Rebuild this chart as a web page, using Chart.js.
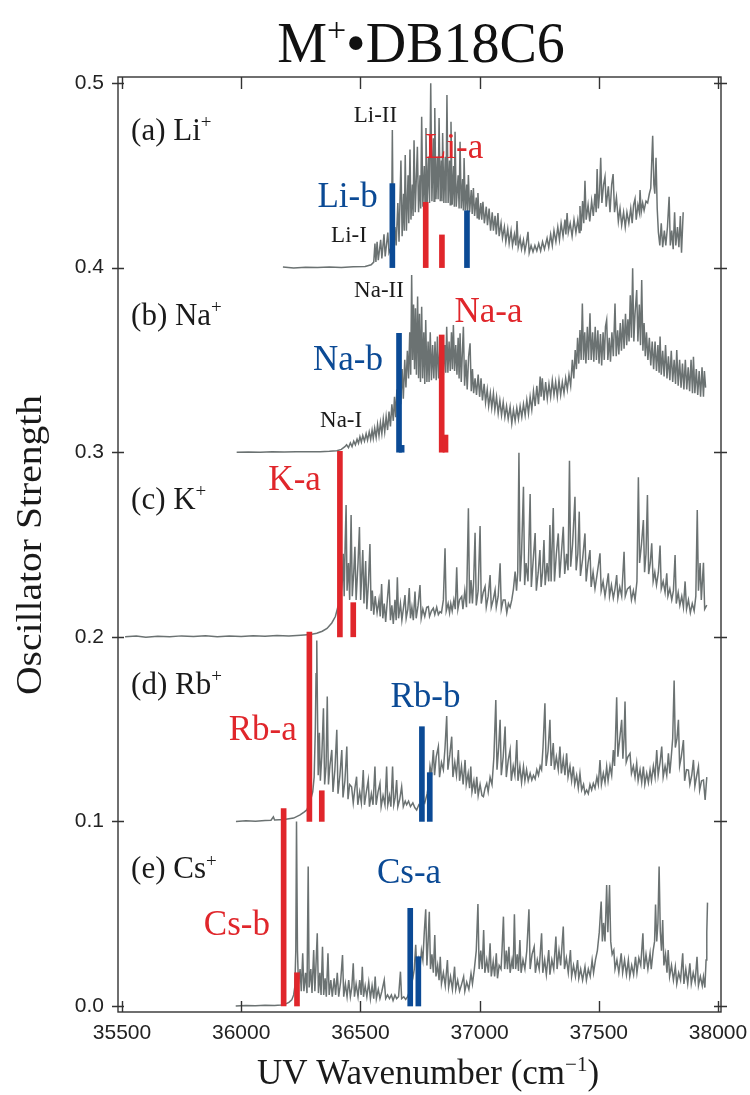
<!DOCTYPE html>
<html>
<head>
<meta charset="utf-8">
<title>M+•DB18C6 UV spectra</title>
<script src="https://cdn.jsdelivr.net/npm/chart.js@4/dist/chart.umd.min.js"></script>
<style>
  html, body { margin: 0; padding: 0; background: #ffffff; }
  #wrap { width: 750px; height: 1095px; }
</style>
</head>
<body>
<div id="wrap"><canvas id="chart" width="750" height="1095"></canvas></div>
<script>
// ---- axis ticks ----
const xTicks = [35500, 36000, 36500, 37000, 37500, 38000];
const yTicks = [0.0, 0.1, 0.2, 0.3, 0.4, 0.5];

// ---- vertical offset of each complex's trace ----
const offsets = { Li: 0.4, Na: 0.3, K: 0.2, Rb: 0.1, Cs: 0.0 };

// ---- UV spectra: [wavenumber (cm-1), oscillator strength above the trace baseline] ----
const liSpectrum = [
  [36175,0.0003],[36220,-0.0002],[36270,0.0002],[36320,0.0],[36370,0.0003],[36420,0.0],[36470,0.0004],[36520,0.0006],[36545,0.0015],
  [36556,0.003],[36561,0.013],[36565,0.003],[36570,0.014],[36575,0.004],[36585,0.015],[36590,0.005],[36599,0.018],[36604,0.006],
  [36615,0.019],[36620,0.008],[36626,0.010],[36630,0.009],[36634,0.0745],[36638,0.01],[36645,0.022],[36650,0.012],[36657,0.035],
  [36662,0.014],[36670,0.058],[36675,0.017],[36681,0.04],[36684,0.02],[36688,0.061],[36693,0.02],[36700,0.05],[36703,0.024],
  [36708,0.064],[36712,0.026],[36718,0.045],[36721,0.028],[36725,0.069],[36730,0.03],[36739,0.0655],[36744,0.03],[36750,0.05],
  [36753,0.032],[36757,0.0817],[36762,0.033],[36768,0.055],[36771,0.034],[36775,0.0756],[36780,0.035],[36786,0.06],[36790,0.035],
  [36795,0.0998],[36800,0.036],[36806,0.07],[36809,0.036],[36812,0.0865],[36817,0.037],[36823,0.06],[36826,0.037],[36830,0.081],
  [36835,0.036],[36840,0.058],[36842,0.036],[36845,0.0729],[36850,0.035],[36856,0.06],[36859,0.035],[36863,0.0935],[36868,0.035],
  [36874,0.058],[36877,0.034],[36880,0.079],[36885,0.034],[36891,0.055],[36894,0.033],[36897,0.0736],[36902,0.033],[36910,0.05],
  [36914,0.032],[36918,0.0682],[36923,0.032],[36929,0.048],[36932,0.031],[36935,0.0594],[36940,0.031],[36946,0.045],[36949,0.03],
  [36953,0.0502],[36958,0.03],[36965,0.042],[36969,0.029],[36974,0.0431],[36979,0.028],[36986,0.038],[36990,0.027],[36993,0.0404],
  [36998,0.026],[37005,0.035],[37009,0.026],[37014,0.0357],[37020,0.024],[37028,0.033],[37033,0.023],[37040,0.032],[37046,0.02],
  [37053,0.03],[37058,0.02],[37065,0.028],[37070,0.018],[37077,0.0296],[37082,0.017],[37090,0.024],[37096,0.016],[37104,0.022],
  [37110,0.014],[37118,0.021],[37124,0.013],[37132,0.02],[37138,0.012],[37146,0.018],[37152,0.012],[37157,0.0252],[37162,0.011],
  [37170,0.016],[37176,0.01],[37184,0.015],[37190,0.009],[37196,0.013],[37203,0.0194],[37208,0.008],[37216,0.012],[37224,0.0085],
  [37232,0.012],[37240,0.009],[37248,0.013],[37256,0.009],[37264,0.014],[37272,0.01],[37283,0.016],[37290,0.011],[37298,0.018],
  [37305,0.012],[37312,0.02],[37320,0.014],[37328,0.022],[37335,0.015],[37342,0.024],[37350,0.017],[37358,0.026],[37362,0.018],
  [37367,0.0296],[37372,0.019],[37380,0.024],[37388,0.017],[37396,0.026],[37404,0.019],[37412,0.026],[37418,0.019],[37421,0.0334],
  [37426,0.02],[37432,0.036],[37437,0.024],[37442,0.0471],[37447,0.026],[37455,0.034],[37462,0.025],[37470,0.036],[37477,0.028],
  [37484,0.04],[37489,0.03],[37493,0.0534],[37498,0.032],[37503,0.04],[37508,0.0595],[37513,0.035],[37520,0.045],[37526,0.0492],
  [37531,0.033],[37540,0.044],[37547,0.03],[37554,0.045],[37560,0.0507],[37566,0.03],[37574,0.038],[37582,0.025],[37589,0.032],
  [37596,0.023],[37604,0.03],[37611,0.022],[37618,0.03],[37626,0.024],[37634,0.032],[37640,0.024],[37646,0.034],[37652,0.0372],
  [37657,0.026],[37664,0.034],[37670,0.03],[37673,0.042],[37678,0.03],[37684,0.035],[37690,0.031],[37698,0.036],[37705,0.035],
  [37712,0.04],[37718,0.043],[37726,0.0714],[37731,0.045],[37735,0.04],[37740,0.0595],[37745,0.032],[37750,0.019],[37756,0.012],
  [37762,0.024],[37768,0.011],[37775,0.02],[37781,0.012],[37788,0.022],[37795,0.0384],[37800,0.012],[37806,0.02],[37812,0.01],
  [37818,0.03],[37823,0.012],[37830,0.022],[37836,0.011],[37842,0.028],[37847,0.008],[37854,0.03]
];

const naSpectrum = [
  [35981,0.0],[36030,0.0001],[36080,0.0],[36130,0.0002],[36180,0.0001],[36230,0.0002],[36280,0.0002],[36331,0.0003],[36370,0.0005],
  [36401,0.0008],[36420,0.0015],[36435,0.003],[36442,0.004],[36450,0.0025],[36458,0.005],[36465,0.003],[36472,0.006],[36479,0.004],
  [36486,0.007],[36492,0.0048],[36498,0.0084],[36504,0.0055],[36510,0.009],[36517,0.006],[36524,0.01],[36530,0.0065],[36537,0.011],
  [36543,0.007],[36549,0.012],[36554,0.0075],[36560,0.013],[36566,0.008],[36572,0.015],[36578,0.009],[36584,0.016],[36590,0.01],
  [36596,0.018],[36602,0.011],[36608,0.0192],[36614,0.012],[36620,0.022],[36626,0.014],[36632,0.026],[36638,0.017],[36643,0.03],
  [36648,0.019],[36653,0.034],[36658,0.022],[36664,0.04],[36669,0.026],[36675,0.045],[36680,0.029],[36686,0.05],[36691,0.035],
  [36697,0.055],[36702,0.04],[36707,0.065],[36711,0.042],[36715,0.096],[36719,0.05],[36723,0.08],[36727,0.045],[36731,0.078],
  [36735,0.042],[36740,0.0843],[36744,0.04],[36748,0.075],[36752,0.038],[36757,0.0788],[36761,0.04],[36766,0.065],[36770,0.037],
  [36774,0.0716],[36779,0.038],[36784,0.06],[36788,0.038],[36793,0.065],[36798,0.039],[36803,0.058],[36808,0.04],[36813,0.06],
  [36818,0.039],[36823,0.0626],[36828,0.04],[36833,0.055],[36838,0.041],[36843,0.06],[36848,0.042],[36854,0.058],[36858,0.043],
  [36862,0.068],[36867,0.043],[36872,0.06],[36877,0.044],[36882,0.065],[36886,0.045],[36890,0.0689],[36895,0.044],[36900,0.058],
  [36905,0.042],[36910,0.062],[36914,0.04],[36918,0.0644],[36923,0.038],[36928,0.055],[36932,0.068],[36937,0.036],[36943,0.05],
  [36948,0.034],[36954,0.052],[36960,0.059],[36965,0.033],[36970,0.045],[36975,0.032],[36981,0.04],[36987,0.031],[36994,0.042],
  [37000,0.03],[37006,0.04],[37012,0.028],[37019,0.037],[37025,0.027],[37032,0.034],[37038,0.025],[37045,0.032],[37051,0.024],
  [37058,0.0319],[37064,0.023],[37071,0.03],[37078,0.021],[37085,0.028],[37092,0.02],[37099,0.027],[37106,0.019],[37113,0.025],
  [37120,0.018],[37128,0.0247],[37135,0.0156],[37142,0.023],[37149,0.017],[37156,0.024],[37163,0.018],[37170,0.025],[37177,0.019],
  [37184,0.026],[37191,0.02],[37198,0.0283],[37205,0.021],[37212,0.03],[37219,0.023],[37226,0.033],[37233,0.025],[37240,0.036],
  [37247,0.026],[37254,0.041],[37258,0.03],[37263,0.04],[37270,0.028],[37277,0.038],[37284,0.029],[37291,0.037],[37298,0.03],
  [37305,0.039],[37312,0.031],[37319,0.038],[37326,0.03],[37333,0.039],[37340,0.031],[37347,0.038],[37354,0.032],[37361,0.04],
  [37368,0.034],[37375,0.042],[37382,0.036],[37389,0.05],[37395,0.04],[37401,0.0554],[37406,0.045],[37411,0.062],[37416,0.048],
  [37421,0.0662],[37426,0.05],[37431,0.0806],[37436,0.05],[37441,0.065],[37446,0.048],[37452,0.068],[37457,0.05],[37463,0.0752],
  [37468,0.05],[37474,0.065],[37479,0.049],[37485,0.068],[37490,0.05],[37496,0.066],[37501,0.048],[37507,0.064],[37512,0.047],
  [37518,0.065],[37523,0.05],[37528,0.068],[37533,0.0716],[37538,0.05],[37544,0.062],[37549,0.049],[37555,0.065],[37561,0.052],
  [37568,0.0806],[37573,0.052],[37579,0.066],[37584,0.053],[37590,0.07],[37595,0.055],[37601,0.072],[37606,0.056],[37612,0.075],
  [37617,0.058],[37622,0.072],[37627,0.06],[37632,0.085],[37637,0.062],[37642,0.0996],[37647,0.06],[37652,0.075],[37659,0.0879],
  [37664,0.06],[37670,0.08],[37675,0.058],[37680,0.0933],[37685,0.055],[37690,0.07],[37695,0.052],[37700,0.065],[37706,0.05],
  [37712,0.062],[37718,0.047],[37724,0.06],[37730,0.045],[37736,0.06],[37742,0.044],[37748,0.058],[37753,0.043],[37757,0.0626],
  [37762,0.042],[37768,0.055],[37774,0.041],[37780,0.058],[37786,0.04],[37792,0.052],[37798,0.039],[37804,0.055],[37810,0.038],
  [37816,0.05],[37822,0.037],[37827,0.0554],[37833,0.036],[37839,0.05],[37845,0.035],[37851,0.048],[37857,0.034],[37863,0.05],
  [37869,0.034],[37875,0.046],[37881,0.033],[37887,0.05],[37893,0.032],[37897,0.0517],[37903,0.032],[37909,0.045],[37915,0.031],
  [37921,0.044],[37927,0.03],[37933,0.046],[37939,0.03],[37943,0.044],[37948,0.035]
];

const kSpectrum = [
  [35513,0.0],[35560,0.0004],[35600,-0.0003],[35650,0.0003],[35700,0.0],[35750,0.0005],[35800,0.0001],[35850,0.0006],[35900,0.0],
  [35950,0.0004],[36000,0.0002],[36050,0.0006],[36100,0.0003],[36150,0.0007],[36200,0.0004],[36250,0.0008],[36290,0.0012],
  [36317,0.0019],[36340,0.003],[36360,0.0045],[36380,0.0075],[36395,0.011],[36405,0.016],[36412,0.018],[36418,0.022],[36424,0.03],
  [36428,0.045],[36432,0.022],[36436,0.05],[36440,0.0714],[36444,0.025],[36450,0.04],[36455,0.02],[36461,0.066],[36466,0.022],
  [36472,0.035],[36477,0.0488],[36482,0.02],[36490,0.04],[36496,0.0595],[36501,0.02],[36506,0.035],[36510,0.047],[36515,0.018],
  [36522,0.041],[36527,0.015],[36534,0.03],[36540,0.0503],[36545,0.014],[36550,0.025],[36556,0.012],[36562,0.022],[36570,0.013],
  [36578,0.02],[36583,0.011],[36589,0.0286],[36594,0.01],[36600,0.018],[36606,0.008],[36613,0.02],[36620,0.031],[36626,0.009],
  [36632,0.017],[36638,0.007],[36645,0.02],[36650,0.009],[36655,0.0322],[36660,0.01],[36668,0.018],[36674,0.009],[36680,0.015],
  [36687,0.0226],[36692,0.01],[36699,0.015],[36705,0.0264],[36710,0.01],[36716,0.016],[36722,0.009],[36729,0.0245],[36734,0.01],
  [36742,0.017],[36750,0.028],[36755,0.01],[36762,0.015],[36770,0.011],[36778,0.016],[36785,0.0164],[36790,0.011],[36798,0.014],
  [36806,0.0155],[36812,0.012],[36820,0.016],[36827,0.012],[36834,0.0136],[36840,0.013],[36848,0.02],[36855,0.0479],[36860,0.014],
  [36868,0.018],[36874,0.013],[36879,0.018],[36885,0.014],[36892,0.02],[36898,0.015],[36904,0.0376],[36909,0.015],[36916,0.02],
  [36925,0.0218],[36930,0.015],[36938,0.025],[36945,0.016],[36953,0.0696],[36958,0.018],[36964,0.0308],[36970,0.018],[36975,0.03],
  [36981,0.0564],[36986,0.017],[36994,0.025],[37002,0.06],[37007,0.018],[37015,0.024],[37023,0.0272],[37028,0.016],[37036,0.022],
  [37044,0.0335],[37049,0.016],[37057,0.02],[37065,0.0254],[37070,0.016],[37078,0.022],[37086,0.0398],[37091,0.015],[37099,0.02],
  [37107,0.02],[37114,0.013],[37121,0.018],[37128,0.016],[37135,0.02],[37142,0.026],[37149,0.0353],[37155,0.025],[37160,0.035],
  [37165,0.0997],[37170,0.03],[37176,0.045],[37184,0.0813],[37189,0.028],[37195,0.04],[37203,0.03],[37212,0.0774],[37217,0.027],
  [37224,0.04],[37233,0.0562],[37238,0.025],[37246,0.035],[37253,0.047],[37258,0.027],[37264,0.035],[37270,0.0524],[37275,0.028],
  [37283,0.04],[37290,0.03],[37295,0.0606],[37300,0.03],[37309,0.0697],[37314,0.03],[37322,0.045],[37330,0.056],[37336,0.032],
  [37343,0.045],[37351,0.0596],[37357,0.034],[37365,0.045],[37371,0.036],[37377,0.0954],[37382,0.038],[37390,0.05],[37400,0.0759],
  [37405,0.036],[37412,0.045],[37418,0.0678],[37423,0.033],[37432,0.042],[37442,0.056],[37447,0.03],[37455,0.04],[37463,0.047],
  [37468,0.027],[37476,0.035],[37484,0.026],[37492,0.033],[37505,0.0452],[37510,0.025],[37518,0.03],[37526,0.022],[37533,0.028],
  [37540,0.0344],[37545,0.022],[37553,0.028],[37561,0.021],[37568,0.026],[37575,0.0334],[37580,0.021],[37588,0.027],[37596,0.022],
  [37606,0.0461],[37611,0.022],[37620,0.026],[37631,0.0272],[37637,0.02],[37645,0.025],[37652,0.02],[37660,0.03],[37666,0.0864],
  [37671,0.04],[37679,0.05],[37687,0.0632],[37692,0.035],[37698,0.045],[37704,0.0768],[37709,0.034],[37716,0.04],[37722,0.0506],
  [37728,0.03],[37735,0.035],[37742,0.028],[37750,0.035],[37757,0.0495],[37762,0.026],[37770,0.03],[37778,0.024],[37785,0.0344],
  [37790,0.022],[37798,0.026],[37806,0.02],[37813,0.025],[37820,0.0443],[37825,0.018],[37833,0.024],[37840,0.017],[37848,0.022],
  [37855,0.016],[37862,0.03],[37868,0.015],[37876,0.02],[37884,0.013],[37892,0.018],[37900,0.014],[37907,0.022],[37913,0.0687],
  [37918,0.025],[37925,0.04],[37930,0.02],[37939,0.0401],[37944,0.015],[37953,0.0172]
];

const rbSpectrum = [
  [35978,0.0],[36020,0.0003],[36060,0.0001],[36100,0.0005],[36125,0.0006],[36135,0.0025],[36140,0.0008],[36180,0.001],[36220,0.0018],
  [36247,0.0035],[36265,0.0052],[36275,0.0062],[36284,0.009],[36292,0.012],[36300,0.016],[36306,0.024],[36311,0.05],[36314,0.08],
  [36317,0.098],[36320,0.06],[36323,0.025],[36328,0.048],[36332,0.022],[36338,0.035],[36345,0.0613],[36350,0.02],[36356,0.03],
  [36361,0.0676],[36366,0.02],[36372,0.03],[36380,0.0387],[36385,0.016],[36393,0.028],[36401,0.0496],[36406,0.015],[36414,0.025],
  [36422,0.0387],[36427,0.013],[36435,0.022],[36443,0.0405],[36448,0.012],[36455,0.02],[36463,0.0188],[36470,0.01],[36477,0.018],
  [36484,0.0242],[36489,0.009],[36497,0.016],[36504,0.01],[36512,0.0278],[36517,0.009],[36525,0.016],[36533,0.0224],[36538,0.008],
  [36546,0.015],[36553,0.009],[36561,0.0297],[36566,0.009],[36574,0.016],[36582,0.0206],[36587,0.008],[36595,0.014],[36603,0.009],
  [36610,0.0297],[36615,0.009],[36622,0.014],[36628,0.008],[36635,0.0297],[36640,0.009],[36646,0.013],[36652,0.0224],[36657,0.008],
  [36665,0.012],[36673,0.0188],[36680,0.008],[36688,0.011],[36694,0.009],[36702,0.011],[36710,0.008],[36720,0.01],[36728,0.0075],
  [36736,0.0062],[36745,0.009],[36752,0.008],[36760,0.012],[36770,0.01],[36780,0.015],[36786,0.02],[36792,0.03],[36798,0.025],
  [36806,0.0387],[36811,0.025],[36818,0.035],[36827,0.0405],[36832,0.024],[36840,0.032],[36848,0.028],[36855,0.04],[36862,0.0571],
  [36867,0.028],[36875,0.036],[36883,0.0459],[36888,0.024],[36896,0.032],[36903,0.025],[36911,0.0387],[36916,0.022],[36924,0.03],
  [36931,0.02],[36939,0.0333],[36944,0.02],[36952,0.026],[36958,0.018],[36963,0.0297],[36968,0.016],[36976,0.022],[36982,0.015],
  [36988,0.0242],[36994,0.014],[37002,0.02],[37010,0.014],[37016,0.0134],[37023,0.018],[37030,0.0206],[37036,0.016],[37044,0.024],
  [37052,0.02],[37060,0.035],[37068,0.0658],[37073,0.028],[37080,0.04],[37086,0.055],[37091,0.025],[37099,0.035],[37107,0.0514],
  [37112,0.024],[37120,0.033],[37128,0.0387],[37133,0.022],[37141,0.03],[37148,0.025],[37156,0.0441],[37161,0.022],[37169,0.03],
  [37176,0.021],[37184,0.0297],[37190,0.022],[37197,0.028],[37204,0.022],[37212,0.026],[37219,0.0224],[37226,0.025],[37233,0.023],
  [37240,0.028],[37247,0.025],[37254,0.03],[37260,0.028],[37266,0.04],[37274,0.064],[37279,0.03],[37287,0.038],[37295,0.055],
  [37300,0.03],[37309,0.0424],[37314,0.028],[37322,0.035],[37330,0.028],[37337,0.0405],[37343,0.026],[37351,0.034],[37358,0.025],
  [37365,0.0369],[37371,0.024],[37379,0.03],[37386,0.022],[37393,0.0297],[37399,0.02],[37407,0.025],[37414,0.018],[37421,0.026],
  [37428,0.017],[37436,0.02],[37442,0.015],[37449,0.017],[37456,0.015],[37463,0.02],[37470,0.017],[37477,0.0206],[37484,0.018],
  [37492,0.024],[37498,0.02],[37505,0.0333],[37511,0.02],[37519,0.026],[37526,0.021],[37533,0.0297],[37539,0.022],[37547,0.03],
  [37554,0.025],[37561,0.0387],[37566,0.03],[37570,0.045],[37575,0.0672],[37580,0.035],[37588,0.045],[37596,0.055],[37601,0.034],
  [37606,0.045],[37610,0.0649],[37615,0.032],[37622,0.035],[37631,0.0369],[37637,0.026],[37645,0.03],[37652,0.024],[37659,0.0315],
  [37665,0.022],[37673,0.028],[37680,0.021],[37687,0.0297],[37693,0.02],[37701,0.026],[37708,0.021],[37715,0.0278],[37721,0.022],
  [37729,0.03],[37736,0.024],[37743,0.0387],[37749,0.025],[37757,0.032],[37764,0.0405],[37770,0.024],[37778,0.03],[37785,0.025],
  [37792,0.0369],[37798,0.026],[37804,0.035],[37810,0.045],[37816,0.0763],[37821,0.04],[37828,0.045],[37834,0.055],[37839,0.03],
  [37846,0.035],[37855,0.0441],[37860,0.022],[37868,0.028],[37876,0.0278],[37882,0.02],[37890,0.025],[37897,0.0333],[37903,0.019],
  [37911,0.025],[37918,0.0297],[37923,0.017],[37931,0.022],[37939,0.0224],[37946,0.0116],[37953,0.024]
];

const csSpectrum = [
  [35977,0.0],[36020,0.0003],[36060,0.0001],[36100,0.0004],[36140,0.0003],[36167,0.0006],[36185,0.001],[36200,0.002],[36212,0.0033],
  [36220,0.006],[36225,0.0105],[36229,0.03],[36232,0.1],[36236,0.03],[36240,0.012],[36247,0.02],[36252,0.008],[36258,0.0285],
  [36263,0.008],[36270,0.018],[36276,0.007],[36281,0.0755],[36285,0.01],[36292,0.02],[36297,0.007],[36304,0.0303],[36309,0.008],
  [36313,0.02],[36319,0.0394],[36324,0.007],[36330,0.018],[36335,0.006],[36341,0.0321],[36346,0.006],[36352,0.015],[36357,0.005],
  [36364,0.0285],[36369,0.006],[36376,0.014],[36382,0.005],[36390,0.015],[36396,0.006],[36403,0.018],[36409,0.005],[36417,0.013],
  [36425,0.0276],[36430,0.005],[36437,0.012],[36444,0.005],[36451,0.014],[36458,0.005],[36464,0.01],[36470,0.0231],[36475,0.005],
  [36482,0.012],[36490,0.005],[36497,0.014],[36503,0.006],[36508,0.0213],[36513,0.005],[36520,0.011],[36527,0.005],[36535,0.013],
  [36542,0.004],[36549,0.011],[36556,0.004],[36562,0.0159],[36567,0.004],[36575,0.009],[36582,0.004],[36590,0.008],[36600,0.0141],
  [36606,0.004],[36614,0.006],[36622,0.004],[36630,0.006],[36637,0.003],[36645,0.006],[36652,0.004],[36660,0.005],[36668,0.0186],
  [36673,0.004],[36682,0.005],[36690,0.0035],[36698,0.005],[36706,0.008],[36714,0.012],[36720,0.015],[36726,0.02],[36732,0.0331],
  [36737,0.018],[36744,0.025],[36750,0.02],[36756,0.03],[36762,0.025],[36768,0.04],[36774,0.0524],[36779,0.022],[36784,0.035],
  [36789,0.0511],[36794,0.02],[36800,0.028],[36806,0.018],[36812,0.0385],[36817,0.016],[36824,0.022],[36830,0.014],[36835,0.0267],
  [36840,0.012],[36848,0.018],[36856,0.011],[36865,0.0249],[36870,0.01],[36878,0.016],[36886,0.009],[36895,0.0213],[36900,0.009],
  [36908,0.014],[36916,0.008],[36925,0.012],[36933,0.0159],[36938,0.008],[36946,0.013],[36955,0.009],[36964,0.0176],[36970,0.012],
  [36978,0.02],[36986,0.03],[36993,0.0553],[36998,0.02],[37005,0.03],[37011,0.02],[37017,0.0412],[37022,0.018],[37030,0.025],
  [37037,0.018],[37044,0.034],[37049,0.016],[37057,0.024],[37063,0.016],[37070,0.0285],[37075,0.015],[37082,0.022],[37090,0.02],
  [37094,0.03],[37100,0.0484],[37105,0.02],[37112,0.03],[37117,0.02],[37123,0.0321],[37128,0.018],[37136,0.025],[37141,0.02],
  [37146,0.0497],[37151,0.02],[37158,0.028],[37163,0.019],[37169,0.0358],[37174,0.018],[37182,0.025],[37190,0.02],[37198,0.03],
  [37207,0.0524],[37212,0.02],[37220,0.028],[37229,0.0321],[37234,0.018],[37242,0.025],[37250,0.02],[37260,0.0394],[37265,0.018],
  [37273,0.025],[37280,0.017],[37290,0.0303],[37295,0.017],[37303,0.025],[37311,0.02],[37320,0.0376],[37325,0.02],[37333,0.03],
  [37340,0.022],[37351,0.043],[37356,0.02],[37364,0.026],[37372,0.018],[37381,0.0303],[37386,0.016],[37394,0.022],[37402,0.016],
  [37411,0.0249],[37416,0.015],[37424,0.02],[37432,0.014],[37442,0.0213],[37448,0.014],[37456,0.02],[37464,0.016],[37472,0.0249],
  [37478,0.018],[37486,0.025],[37494,0.03],[37502,0.04],[37510,0.0566],[37515,0.035],[37520,0.045],[37526,0.035],[37533,0.0656],
  [37538,0.04],[37545,0.0656],[37550,0.035],[37556,0.028],[37563,0.0303],[37568,0.02],[37576,0.025],[37584,0.018],[37594,0.0285],
  [37600,0.018],[37608,0.025],[37616,0.017],[37624,0.0249],[37630,0.016],[37638,0.022],[37646,0.017],[37654,0.0267],[37660,0.018],
  [37668,0.026],[37676,0.022],[37685,0.0394],[37690,0.02],[37698,0.028],[37706,0.02],[37715,0.0285],[37720,0.02],[37728,0.03],
  [37734,0.035],[37738,0.055],[37743,0.035],[37748,0.045],[37753,0.0755],[37758,0.04],[37763,0.03],[37768,0.0466],[37773,0.022],
  [37780,0.028],[37786,0.018],[37791,0.0303],[37797,0.016],[37805,0.022],[37813,0.014],[37821,0.0213],[37827,0.012],[37835,0.018],
  [37843,0.014],[37852,0.0285],[37857,0.012],[37865,0.02],[37873,0.012],[37882,0.0231],[37888,0.012],[37896,0.018],[37904,0.013],
  [37912,0.0267],[37918,0.011],[37926,0.016],[37934,0.011],[37939,0.0159],[37945,0.01],[37950,0.0249],[37953,0.04],[37956,0.056]
];

// ---- calculated transitions: [wavenumber (cm-1), oscillator strength] ----
const liRedSticks  = [[36774, 0.0354], [36842, 0.0177]];
const liBlueSticks = [[36634, 0.0455], [36947, 0.0308]];
const naRedSticks  = [[36841, 0.0635], [36857, 0.0093]];
const naBlueSticks = [[36662, 0.0644], [36673, 0.0037]];
const kRedSticks   = [[36414, 0.1005], [36470, 0.0185]];
const rbRedSticks  = [[36286, 0.1025], [36338, 0.0166]];
const rbBlueSticks = [[36758, 0.0513], [36791, 0.0264]];
const csRedSticks  = [[36178, 0.1070], [36234, 0.0180]];
const csBlueSticks = [[36709, 0.0529], [36743, 0.0267]];

// ---- colours and fonts ----
const TRACE = '#6b7272';
const RED = '#e0262b';
const BLUE = '#0b4a95';
const INK = '#1a1a1a';
const SERIF = '"Liberation Serif", "Times New Roman", serif';
const SANS = '"Liberation Sans", Arial, sans-serif';

const traces = [
  ['Li', liSpectrum], ['Na', naSpectrum], ['K', kSpectrum], ['Rb', rbSpectrum], ['Cs', csSpectrum]
];
const sticks = [
  ['Li', liRedSticks, RED], ['Li', liBlueSticks, BLUE],
  ['Na', naRedSticks, RED], ['Na', naBlueSticks, BLUE],
  ['K', kRedSticks, RED],
  ['Rb', rbRedSticks, RED], ['Rb', rbBlueSticks, BLUE],
  ['Cs', csRedSticks, RED], ['Cs', csBlueSticks, BLUE]
];

const datasets = [];
sticks.forEach(([ion, list, color]) => {
  const base = offsets[ion];
  datasets.push({
    type: 'bar',
    label: ion + ' sticks',
    data: list.map(([x, h]) => ({ x: x, y: [base, base + h] })),
    backgroundColor: color,
    borderWidth: 0,
    barThickness: 5,
    grouped: false,
    order: 0
  });
});
traces.forEach(([ion, list]) => {
  const base = offsets[ion];
  datasets.push({
    type: 'line',
    label: ion,
    data: list.map(([x, y]) => ({ x: x, y: base + y })),
    borderColor: TRACE,
    borderWidth: 1.5,
    pointRadius: 0,
    tension: 0,
    fill: false,
    order: 1
  });
});

// ---- text annotations (data coordinates; size in px) ----
const panelLabels = [
  { parts: [['(a) Li', false], ['+', true]], x: 35538, y: 0.4691 },
  { parts: [['(b) Na', false], ['+', true]], x: 35538, y: 0.3691 },
  { parts: [['(c) K', false], ['+', true]], x: 35538, y: 0.2691 },
  { parts: [['(d) Rb', false], ['+', true]], x: 35538, y: 0.1691 },
  { parts: [['(e) Cs', false], ['+', true]], x: 35538, y: 0.0691 }
];
const bandLabels = [
  { text: 'Li-II', x: 36563, y: 0.4787, color: INK, size: 23 },
  { text: 'Li-I',  x: 36452, y: 0.4140, color: INK, size: 23 },
  { text: 'Na-II', x: 36578, y: 0.3839, color: INK, size: 23 },
  { text: 'Na-I',  x: 36419, y: 0.3138, color: INK, size: 23 },
  { text: 'Li-b',  x: 36446, y: 0.4328, color: BLUE, size: 35 },
  { text: 'Li-a',  x: 36893, y: 0.4592, color: RED, size: 35 },
  { text: 'Na-b',  x: 36448, y: 0.3445, color: BLUE, size: 35 },
  { text: 'Na-a',  x: 37037, y: 0.3707, color: RED, size: 35 },
  { text: 'K-a',   x: 36224, y: 0.2795, color: RED, size: 35 },
  { text: 'Rb-a',  x: 36090, y: 0.1441, color: RED, size: 35 },
  { text: 'Rb-b',  x: 36773, y: 0.1621, color: BLUE, size: 35 },
  { text: 'Cs-b',  x: 35982, y: 0.0385, color: RED, size: 35 },
  { text: 'Cs-a',  x: 36704, y: 0.0666, color: BLUE, size: 35 }
];

// text with optional superscript pieces, drawn from (x, baseline y)
function richWidth(ctx, parts, size) {
  let w = 0;
  parts.forEach(([t, sup]) => {
    ctx.font = (sup ? Math.round(size * 0.6) : size) + 'px ' + SERIF;
    w += ctx.measureText(t).width;
  });
  return w;
}
function drawRich(ctx, parts, x, y, size, color, align) {
  ctx.save();
  ctx.fillStyle = color;
  ctx.textBaseline = 'alphabetic';
  ctx.textAlign = 'left';
  let cx = x;
  if (align === 'center') cx = x - richWidth(ctx, parts, size) / 2;
  parts.forEach(([t, sup]) => {
    const s = sup ? Math.round(size * 0.6) : size;
    ctx.font = s + 'px ' + SERIF;
    ctx.fillText(t, cx, sup ? y - size * 0.38 : y);
    cx += ctx.measureText(t).width;
  });
  ctx.restore();
}

const framePlugin = {
  id: 'frameAndText',
  afterDraw(chart) {
    const ctx = chart.ctx;
    const a = chart.chartArea;
    const xs = chart.scales.x, ys = chart.scales.y;
    ctx.save();
    ctx.strokeStyle = '#333333';
    ctx.lineWidth = 1.4;
    ctx.strokeRect(a.left, a.top, a.right - a.left, a.bottom - a.top);
    ctx.beginPath();
    xTicks.forEach(v => {
      const px = Math.round(xs.getPixelForValue(v)) + 0.5;
      ctx.moveTo(px, a.bottom); ctx.lineTo(px, a.bottom - 11);
      ctx.moveTo(px, a.top); ctx.lineTo(px, a.top + 12);
    });
    yTicks.forEach(v => {
      const py = Math.round(ys.getPixelForValue(v)) + 0.5;
      ctx.moveTo(a.left - 6, py); ctx.lineTo(a.left + 6, py);
      ctx.moveTo(a.right - 7, py); ctx.lineTo(a.right + 6, py);
    });
    ctx.stroke();
    ctx.restore();

    panelLabels.forEach(l => {
      drawRich(ctx, l.parts, xs.getPixelForValue(l.x), ys.getPixelForValue(l.y), 31, INK, 'left');
    });
    bandLabels.forEach(l => {
      drawRich(ctx, [[l.text, false]], xs.getPixelForValue(l.x), ys.getPixelForValue(l.y), l.size, l.color, 'center');
    });

    // title
    drawRich(ctx, [['M', false], ['+', true], ['\u2022DB18C6', false]], 421, 62, 56, '#111111', 'center');
    // x-axis title
    drawRich(ctx, [['UV Wavenumber (cm', false], ['\u22121', true], [')', false]], 428, 1084, 35, INK, 'center');
    // y-axis title, stretched slightly along its reading direction
    ctx.save();
    ctx.translate(41, 545);
    ctx.rotate(-Math.PI / 2);
    ctx.scale(1.1, 1);
    drawRich(ctx, [['Oscillator Strength', false]], 0, 0, 36, INK, 'center');
    ctx.restore();
  }
};

new Chart(document.getElementById('chart'), {
  type: 'line',
  data: { datasets: datasets },
  options: {
    responsive: false,
    animation: false,
    events: [],
    layout: { padding: { left: 0, right: 29, top: 77, bottom: 0 } },
    plugins: { legend: { display: false }, tooltip: { enabled: false }, title: { display: false } },
    scales: {
      x: {
        type: 'linear',
        offset: false,
        min: 35483.2,
        max: 38012.6,
        grid: { display: false, drawTicks: false, offset: false },
        border: { display: false },
        afterBuildTicks: s => { s.ticks = xTicks.map(v => ({ value: v })); },
        afterFit: s => { s.height = 83; s.paddingLeft = 0; s.paddingRight = 0; },
        ticks: {
          padding: 9,
          color: '#222222',
          font: { family: SANS, size: 21 },
          maxRotation: 0,
          autoSkip: false,
          callback: v => String(v)
        }
      },
      y: {
        type: 'linear',
        min: -0.00325,
        max: 0.50325,
        grid: { display: false, drawTicks: false },
        border: { display: false },
        afterBuildTicks: s => { s.ticks = yTicks.map(v => ({ value: v })); },
        afterFit: s => { s.width = 118; s.paddingTop = 0; s.paddingBottom = 0; },
        ticks: {
          padding: 14,
          color: '#222222',
          font: { family: SANS, size: 21 },
          autoSkip: false,
          callback: v => Number(v).toFixed(1)
        }
      }
    }
  },
  plugins: [framePlugin]
});
</script>
</body>
</html>
